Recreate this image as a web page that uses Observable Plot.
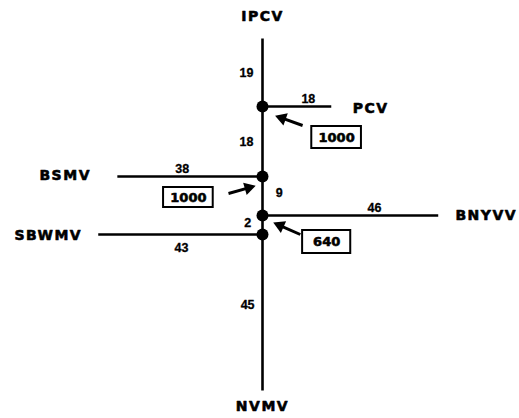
<!DOCTYPE html>
<html>
<head>
<meta charset="utf-8">
<script src="https://cdn.jsdelivr.net/npm/d3@7"></script>
<script src="https://cdn.jsdelivr.net/npm/@observablehq/plot@0.6"></script>
<style>
  html, body { margin: 0; padding: 0; background: #fff; }
</style>
</head>
<body>
<div id="chart"></div>
<script>
// ---- data ----
// trunk, top to bottom: IPCV tip, PCV node, BSMV node, BNYVV node, SBWMV node, NVMV tip
const trunkTaxa = ["IPCV", "NVMV"];
const trunkLengths = [19, 18, 9, 2, 45];          // segment lengths along the trunk
const sideTaxa = ["PCV", "BSMV", "BNYVV", "SBWMV"];
const sideLengths = [18, 38, 46, 43];             // side-branch lengths
const sideDirection = [1, -1, 1, -1];             // right / left
const bootstrapValues = [1000, 1000, 640];        // at PCV, BSMV, BNYVV nodes

// ---- layout (positions) ----
const pxPerUnit = 3.82;
const trunkY = [38, 106, 176, 215, 234, 390];
const trunkLabelY = [72, 141, 192, 222, 304];
const trunkLabelX = [-4.2, -4.2, 4.4, -3.9, -3.9];
const sideLabelX = [12, -21, 29.3, -21.2];
const sideLabelY = [98, 168, 207, 247];
const taxonLabelX = [23.6, -44.9, 50.5, -47.2];
const taxonLabelY = [108, 175, 215, 235];
const trunkTaxonY = [16, 406];
const boxX = [19.4, -19.4, 16.8];
const boxY = [137, 197, 241.5];
const boxHalfW = [6.5, 6.5, 6.3];
const boxHalfH = [11, 10, 11.5];
const arrowFrom = [[10.5, 125], [-8.9, 193], [9.9, 234]];
const arrowTo = [[3.9, 116], [-2.4, 186], [3.4, 223]];

// ---- build tables ----
const segments = trunkLengths.map((len, i) => ({
  len, y1: trunkY[i], y2: trunkY[i + 1], lx: trunkLabelX[i], ly: trunkLabelY[i]
}));
const nodes = sideTaxa.map((name, i) => ({
  name, len: sideLengths[i], dir: sideDirection[i], y: trunkY[i + 1],
  lx: sideLabelX[i], ly: sideLabelY[i], tx: taxonLabelX[i], ty: taxonLabelY[i]
}));
const headBack = 5; // px from tip to triangle centre
const boots = bootstrapValues.map((v, i) => {
  const [x1, y1] = arrowFrom[i], [x2, y2] = arrowTo[i];
  const dxp = (x2 - x1) * pxPerUnit, dyp = y2 - y1;
  const L = Math.hypot(dxp, dyp), ux = dxp / L, uy = dyp / L;
  return {
    v, x: boxX[i], y: boxY[i], hw: boxHalfW[i], hh: boxHalfH[i],
    ax1: x1, ay1: y1,
    hx: x2 - ux * headBack / pxPerUnit, hy: y2 - uy * headBack,
    rot: Math.atan2(ux, -uy) * 180 / Math.PI
  };
});
const trunkTips = trunkTaxa.map((name, i) => ({ name, y: trunkTaxonY[i] }));

const numFont = "Liberation Sans, Arial, sans-serif";
const boldFont = "DejaVu Sans, sans-serif";
const heavy = { fontFamily: boldFont, fontWeight: "bold", fontSize: 14, fill: "#000", stroke: "#000", strokeWidth: 0.6 };

const chart = Plot.plot({
  width: 519,
  height: 418,
  margin: 0,
  x: { domain: [-262 / pxPerUnit, (519 - 262) / pxPerUnit], range: [0, 519], axis: null },
  y: { domain: [0, 418], range: [0, 418], axis: null },
  style: { background: "#fff" },
  marks: [
    Plot.link(segments, { x1: 0, x2: 0, y1: "y1", y2: "y2", stroke: "#000", strokeWidth: 2.6 }),
    Plot.link(nodes, { x1: 0, x2: d => d.dir * d.len, y1: "y", y2: "y", stroke: "#000", strokeWidth: 2.4 }),
    Plot.dot(nodes, { x: 0, y: "y", r: 6, fill: "#000", stroke: null }),
    Plot.text(segments, {
      x: "lx", y: "ly", text: d => String(d.len),
      fontFamily: numFont, fontWeight: "bold", fontSize: 12.5, fill: "#000", stroke: "#000", strokeWidth: 0.3
    }),
    Plot.text(nodes, {
      x: "lx", y: "ly", text: d => String(d.len),
      fontFamily: numFont, fontWeight: "bold", fontSize: 12.5, fill: "#000", stroke: "#000", strokeWidth: 0.3
    }),
    Plot.text(nodes.filter(d => d.dir > 0), { x: "tx", y: "ty", text: "name", textAnchor: "start", ...heavy }),
    Plot.text(nodes.filter(d => d.dir < 0), { x: "tx", y: "ty", text: "name", textAnchor: "end", ...heavy }),
    Plot.text(trunkTips, { x: 0, y: "y", text: "name", textAnchor: "middle", ...heavy }),
    Plot.rect(boots, {
      x1: d => d.x - d.hw, x2: d => d.x + d.hw, y1: d => d.y - d.hh, y2: d => d.y + d.hh,
      fill: "#fff", stroke: "#000", strokeWidth: 2
    }),
    Plot.text(boots, {
      x: "x", y: "y", text: d => String(d.v),
      fontFamily: boldFont, fontWeight: "bold", fontSize: 13, fill: "#000", stroke: "#000", strokeWidth: 0.6
    }),
    // arrow shafts and filled heads
    Plot.link(boots, { x1: "ax1", y1: "ay1", x2: "hx", y2: "hy", stroke: "#000", strokeWidth: 3 }),
    Plot.dot(boots, { x: "hx", y: "hy", symbol: "triangle", r: 4.8, rotate: "rot", fill: "#000", stroke: null })
  ]
});

document.getElementById("chart").appendChild(chart);
// wide letter spacing of the taxon names
const names = new Set([...trunkTaxa, ...sideTaxa]);
d3.select(chart).selectAll("text").filter(function () { return names.has(this.textContent); })
  .attr("letter-spacing", 1.5);
</script>
</body>
</html>
